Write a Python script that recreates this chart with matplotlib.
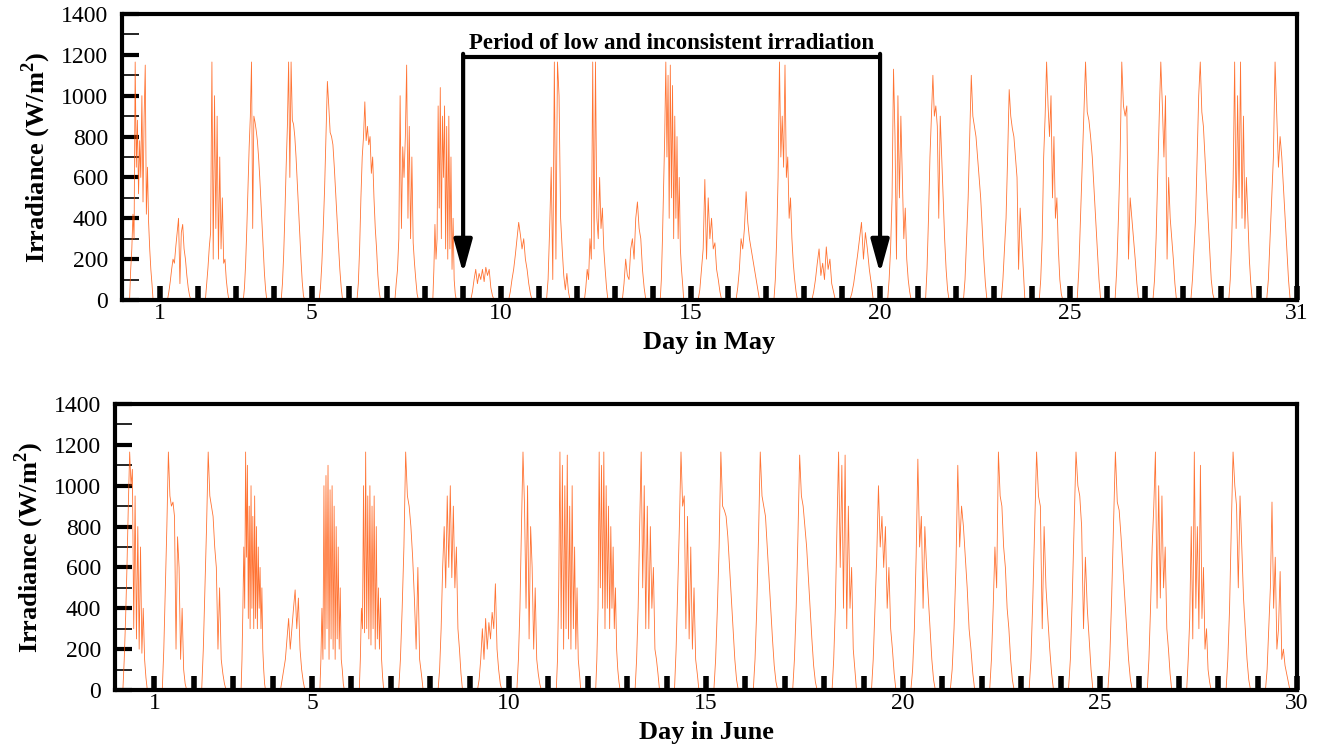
import numpy as np
import matplotlib
matplotlib.use("Agg")
import matplotlib.pyplot as plt
from matplotlib.ticker import MultipleLocator

plt.rcParams["font.family"] = ["Liberation Serif", "DejaVu Serif"]
plt.rcParams["mathtext.fontset"] = "custom"
plt.rcParams["mathtext.rm"] = "Liberation Serif"
plt.rcParams["mathtext.bf"] = "Liberation Serif:bold"

# irradiance samples (W/m2) for each day, sunrise -> sunset
may_irradiance = [
    [0, 150, 250, 420, 300, 1165, 650, 880, 520, 780, 600, 1000, 480, 900, 1150, 420, 650, 380, 250, 150, 80, 0],
    [0, 40, 90, 150, 200, 180, 260, 330, 400, 80, 330, 370, 250, 200, 120, 60, 20, 0],
    [0, 80, 160, 260, 330, 1165, 200, 1000, 350, 900, 200, 700, 250, 500, 180, 200, 100, 40, 0],
    [0, 60, 180, 350, 550, 750, 900, 1165, 350, 900, 870, 830, 780, 700, 600, 480, 360, 240, 130, 50, 0],
    [0, 80, 220, 420, 650, 850, 1165, 600, 1165, 880, 860, 800, 700, 580, 450, 320, 200, 90, 20, 0],
    [0, 60, 180, 350, 550, 800, 1070, 950, 820, 800, 760, 650, 520, 400, 270, 150, 60, 0],
    [0, 80, 250, 500, 700, 800, 970, 780, 850, 760, 800, 620, 700, 500, 350, 250, 120, 40, 0],
    [0, 80, 150, 300, 1000, 350, 750, 600, 800, 1150, 400, 850, 300, 700, 280, 180, 100, 30, 0],
    [0, 150, 370, 200, 300, 950, 450, 1040, 300, 900, 600, 950, 250, 850, 200, 900, 250, 700, 150, 400, 100, 30, 0],
    [0, 40, 100, 150, 80, 130, 100, 150, 90, 160, 120, 150, 60, 20, 0],
    [0, 40, 100, 150, 220, 300, 380, 320, 250, 300, 200, 150, 80, 30, 0],
    [0, 100, 350, 650, 100, 1165, 200, 1165, 1000, 400, 250, 120, 50, 130, 40, 0],
    [0, 60, 150, 100, 300, 200, 1165, 250, 1165, 400, 300, 600, 350, 450, 250, 150, 60, 0],
    [0, 80, 200, 120, 100, 250, 300, 200, 400, 480, 350, 300, 150, 60, 0],
    [0, 100, 300, 550, 800, 1165, 700, 1100, 400, 1150, 500, 1050, 300, 900, 400, 800, 300, 600, 250, 150, 80, 0],
    [0, 50, 150, 250, 590, 200, 500, 300, 400, 250, 280, 150, 100, 40, 0],
    [0, 60, 150, 300, 250, 350, 530, 380, 300, 250, 200, 150, 100, 50, 0],
    [0, 100, 300, 600, 1165, 700, 900, 650, 1150, 600, 700, 400, 500, 300, 180, 100, 40, 0],
    [0, 40, 100, 180, 250, 120, 180, 100, 260, 150, 200, 80, 40, 0],
    [0, 30, 80, 150, 220, 300, 380, 200, 330, 250, 150, 80, 0],
    [0, 100, 250, 500, 1130, 800, 200, 1000, 500, 900, 600, 300, 450, 200, 100, 40, 0],
    [0, 150, 400, 700, 900, 1100, 900, 950, 850, 400, 900, 700, 500, 300, 150, 50, 0],
    [0, 100, 300, 500, 800, 1100, 900, 850, 800, 700, 600, 500, 350, 200, 80, 0],
    [0, 100, 250, 400, 700, 1030, 900, 840, 800, 700, 600, 150, 450, 300, 150, 0],
    [0, 100, 300, 700, 900, 1165, 950, 800, 1000, 500, 800, 400, 500, 250, 100, 30, 0],
    [0, 150, 400, 650, 900, 1165, 920, 880, 800, 700, 550, 400, 250, 100, 0],
    [0, 150, 400, 700, 1165, 950, 900, 950, 200, 500, 400, 300, 200, 80, 0],
    [0, 100, 300, 600, 900, 1165, 950, 700, 1000, 200, 600, 400, 300, 200, 80, 0],
    [0, 100, 250, 400, 700, 1000, 1165, 920, 850, 700, 550, 400, 250, 100, 30, 0],
    [0, 100, 300, 600, 1165, 350, 1000, 500, 1165, 400, 900, 350, 600, 400, 200, 80, 0],
    [0, 100, 300, 500, 700, 1165, 900, 650, 800, 700, 550, 400, 250, 100, 0],
]

june_irradiance = [
    [0, 150, 350, 600, 900, 1165, 1000, 1080, 300, 950, 250, 800, 200, 700, 180, 400, 150, 60, 0],
    [0, 200, 500, 800, 1165, 950, 900, 920, 850, 200, 750, 600, 150, 400, 100, 30, 0],
    [0, 200, 500, 800, 1165, 950, 900, 850, 700, 600, 200, 500, 150, 80, 30, 0],
    [0, 150, 400, 700, 400, 1165, 650, 1100, 350, 900, 300, 1000, 400, 850, 300, 950, 350, 800, 300, 700, 400, 600, 300, 500, 200, 100, 30, 0],
    [0, 50, 100, 150, 250, 350, 200, 300, 400, 490, 300, 450, 200, 100, 40, 0],
    [0, 150, 400, 150, 1000, 200, 1050, 300, 1100, 150, 980, 250, 1000, 200, 900, 150, 800, 250, 700, 200, 500, 150, 100, 30, 0],
    [0, 150, 400, 300, 1000, 280, 1165, 300, 950, 250, 1000, 220, 900, 300, 950, 200, 800, 250, 500, 200, 450, 150, 60, 0],
    [0, 150, 400, 700, 1165, 950, 900, 800, 650, 450, 200, 600, 150, 80, 0],
    [0, 100, 300, 600, 800, 500, 950, 600, 1000, 550, 900, 500, 700, 300, 200, 80, 0],
    [0, 50, 150, 300, 150, 350, 200, 330, 250, 380, 300, 520, 200, 100, 30, 0],
    [0, 150, 400, 800, 1165, 900, 400, 1000, 250, 800, 600, 200, 500, 150, 80, 30, 0],
    [0, 150, 500, 1165, 300, 1100, 200, 1000, 300, 1150, 250, 900, 200, 1000, 300, 700, 200, 500, 150, 80, 0],
    [0, 150, 400, 1165, 500, 1100, 400, 1165, 300, 1000, 400, 900, 300, 800, 400, 700, 300, 500, 200, 100, 40, 0],
    [0, 150, 400, 800, 1165, 500, 1000, 300, 900, 300, 800, 400, 600, 200, 150, 80, 0],
    [0, 200, 500, 800, 1165, 900, 950, 300, 850, 250, 700, 200, 500, 150, 80, 0],
    [0, 150, 400, 700, 1165, 900, 880, 850, 750, 600, 450, 300, 150, 50, 0],
    [0, 150, 400, 750, 1165, 950, 900, 850, 700, 550, 400, 250, 120, 40, 0],
    [0, 150, 400, 750, 1150, 950, 900, 800, 700, 550, 400, 250, 120, 40, 0],
    [0, 150, 400, 800, 1165, 600, 1100, 400, 1150, 300, 900, 400, 600, 200, 100, 0],
    [0, 150, 400, 650, 1000, 700, 850, 600, 800, 400, 600, 300, 200, 80, 0],
    [0, 100, 300, 650, 1130, 700, 850, 400, 800, 600, 450, 300, 150, 50, 0],
    [0, 100, 300, 600, 1100, 700, 900, 800, 650, 500, 300, 200, 80, 0],
    [0, 150, 400, 700, 500, 1165, 950, 900, 700, 600, 400, 300, 150, 50, 0],
    [0, 150, 450, 800, 1165, 950, 900, 300, 800, 500, 350, 200, 80, 0],
    [0, 150, 450, 800, 1165, 1000, 950, 800, 300, 650, 400, 250, 100, 0],
    [0, 150, 450, 800, 1165, 920, 880, 750, 600, 450, 300, 150, 50, 0],
    [0, 150, 400, 700, 900, 1165, 400, 1000, 450, 950, 500, 700, 300, 200, 80, 0],
    [0, 150, 350, 800, 250, 1165, 400, 800, 300, 1100, 350, 600, 200, 300, 100, 40, 0],
    [0, 150, 400, 800, 1165, 1000, 900, 500, 950, 700, 450, 300, 150, 50, 0],
    [0, 100, 300, 500, 920, 400, 650, 200, 300, 580, 150, 200, 120, 80, 40, 0],
]

may_labels = [1, 5, 10, 15, 20, 25, 31]
june_labels = [1, 5, 10, 15, 20, 25, 30]
SUNRISE, SUNSET = 0.2, 0.82   # fraction of the day


def day_series(days):
    xs, ys = [], []
    for i, vals in enumerate(days):
        xs.append(np.linspace(i + SUNRISE, i + SUNSET, len(vals)))
        ys.append(np.asarray(vals, dtype=float))
    return np.concatenate(xs), np.concatenate(ys)


def style_axis(ax, ndays, labels, xlabel):
    ax.set_xlim(0, ndays)
    ax.set_ylim(0, 1400)
    ax.set_xticks(range(1, ndays + 1))
    ax.set_xticklabels([str(d) if d in labels else "" for d in range(1, ndays + 1)])
    ax.yaxis.set_major_locator(MultipleLocator(200))
    ax.yaxis.set_minor_locator(MultipleLocator(100))
    ax.tick_params(axis="x", which="major", direction="in", length=10, width=4,
                   labelsize=17, pad=2, top=False)
    ax.tick_params(axis="y", which="major", direction="in", length=12, width=3,
                   labelsize=17, pad=10, right=False)
    ax.tick_params(axis="y", which="minor", direction="in", length=12, width=1.2,
                   right=False)
    for sp in ax.spines.values():
        sp.set_linewidth(3)
    ax.set_xlabel(xlabel, fontsize=19, fontweight="bold", labelpad=5)
    ax.set_ylabel(r"Irradiance (W/m$^\mathbf{2}$)", fontsize=19, fontweight="bold",
                  labelpad=6)


fig = plt.figure(figsize=(13.29, 7.45), dpi=100)
ax1 = fig.add_axes([122 / 1329, 1 - 300 / 745, 1175 / 1329, 286 / 745])
ax2 = fig.add_axes([115 / 1329, 1 - 690 / 745, 1182 / 1329, 286 / 745])

line_color = "#ff5000"

x, y = day_series(may_irradiance)
ax1.plot(x, y, color=line_color, lw=0.6, alpha=0.8)
style_axis(ax1, len(may_irradiance), may_labels, "Day in May")

x, y = day_series(june_irradiance)
ax2.plot(x, y, color=line_color, lw=0.6, alpha=0.8)
style_axis(ax2, len(june_irradiance), june_labels, "Day in June")

# bracket marking the cloudy period
ax1.plot([9, 20], [1190, 1190], color="black", lw=3, solid_capstyle="butt", zorder=5)
for xd in (9, 20):
    ax1.annotate("", xy=(xd, 130), xytext=(xd, 1205),
                 arrowprops=dict(arrowstyle="-|>,head_length=0.8,head_width=0.22",
                                 mutation_scale=25, lw=3, color="black",
                                 shrinkA=0, shrinkB=0), zorder=5)
ax1.text(14.5, 1255, "Period of low and inconsistent irradiation", ha="center",
         va="center", fontsize=16.5, fontweight="bold")

fig.savefig("out.png", dpi=100, facecolor="white")
